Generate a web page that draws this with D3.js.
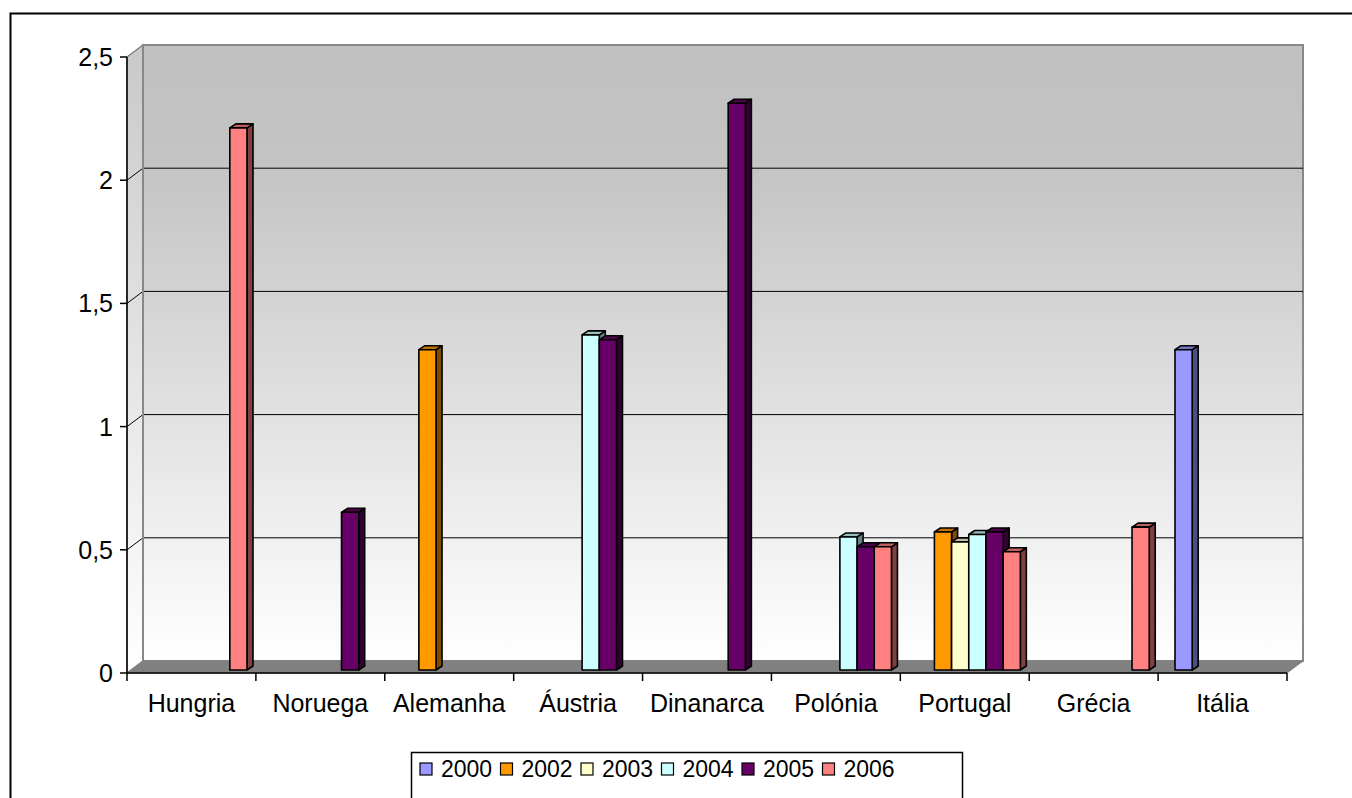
<!DOCTYPE html>
<html>
<head>
<meta charset="utf-8">
<script src="https://cdn.jsdelivr.net/npm/d3@7"></script>
<style>
  html, body { margin: 0; padding: 0; background: #fff; }
  svg { display: block; }
  text { font-family: "Liberation Sans", Arial, sans-serif; fill: #000; }
</style>
</head>
<body>
<svg id="chart" width="1352" height="798"></svg>
<script>
// Countries along the category axis
const categories = ["Hungria", "Noruega", "Alemanha", "Áustria", "Dinanarca", "Polónia", "Portugal", "Grécia", "Itália"];
// Years (one column per year inside each country cluster)
const years = ["2000", "2002", "2003", "2004", "2005", "2006"];
const yearColors = ["#9999FF", "#FF9900", "#FFFFCC", "#CCFFFF", "#660066", "#FF8080"];
// Values per year, in category order (null = no value)
const v2000 = [null, null, null, null, null, null, null, null, 1.30];
const v2002 = [null, null, 1.30, null, null, null, 0.56, null, null];
const v2003 = [null, null, null, null, null, null, 0.52, null, null];
const v2004 = [null, null, null, 1.36, null, 0.54, 0.55, null, null];
const v2005 = [null, 0.64, null, 1.34, 2.30, 0.50, 0.56, null, null];
const v2006 = [2.20, null, null, null, null, 0.50, 0.48, 0.58, null];
const seriesValues = [v2000, v2002, v2003, v2004, v2005, v2006];
const yTicks = [0, 0.5, 1, 1.5, 2, 2.5];

(function () {
const svg = d3.select("#chart");

// Plot frame (front plane) and depth offset of the back wall
const pL = 127, pR = 1287, pT = 57, pB = 673;
const depth = { dx: 16, dy: -12 };
// Column depth inside the floor
const colFront = { dx: 4, dy: -3 }, colBack = { dx: 10, dy: -7 };

const x0 = d3.scaleBand().domain(categories).range([pL, pR]).padding(0);
const x1 = d3.scaleBand().domain(years).range([0, x0.bandwidth()]).paddingInner(0).paddingOuter(0.75);
const y = d3.scaleLinear().domain([0, 2.5]).range([pB, pT]);
const fmt = v => String(v).replace(".", ",");

// Outer chart border
svg.append("rect").attr("x", 10.5).attr("y", 13.5).attr("width", 1360).attr("height", 800)
  .attr("fill", "none").attr("stroke", "#000").attr("stroke-width", 2);

// Gradients for the walls
const defs = svg.append("defs");
const g1 = defs.append("linearGradient").attr("id", "wallGrad")
  .attr("gradientUnits", "userSpaceOnUse").attr("x1", 0).attr("y1", pT + depth.dy).attr("x2", 0).attr("y2", pB + depth.dy);
g1.append("stop").attr("offset", "0").attr("stop-color", "#C0C0C0");
g1.append("stop").attr("offset", "0.2").attr("stop-color", "#C4C4C4");
g1.append("stop").attr("offset", "1").attr("stop-color", "#FFFFFF");
const g2 = defs.append("linearGradient").attr("id", "sideGrad")
  .attr("gradientUnits", "userSpaceOnUse").attr("x1", 0).attr("y1", pT).attr("x2", 0).attr("y2", pB);
g2.append("stop").attr("offset", "0").attr("stop-color", "#CACACA");
g2.append("stop").attr("offset", "1").attr("stop-color", "#FFFFFF");

const pts = a => a.map(p => p.join(",")).join(" ");

// Back wall
svg.append("polygon")
  .attr("points", pts([[pL + depth.dx, pT + depth.dy], [pR + depth.dx, pT + depth.dy],
                       [pR + depth.dx, pB + depth.dy], [pL + depth.dx, pB + depth.dy]]))
  .attr("fill", "url(#wallGrad)").attr("stroke", "#888").attr("stroke-width", 2);
// Side wall
svg.append("polygon")
  .attr("points", pts([[pL, pT], [pL + depth.dx, pT + depth.dy],
                       [pL + depth.dx, pB + depth.dy], [pL, pB]]))
  .attr("fill", "url(#sideGrad)").attr("stroke", "#888").attr("stroke-width", 1.5);

// Gridlines on back and side walls
yTicks.filter(t => t > 0 && t < 2.5).forEach(t => {
  svg.append("line").attr("x1", pL + depth.dx).attr("x2", pR + depth.dx)
    .attr("y1", y(t) + depth.dy).attr("y2", y(t) + depth.dy)
    .attr("stroke", "#000").attr("stroke-width", 1);
});
yTicks.filter(t => t > 0).forEach(t => {
  svg.append("line").attr("x1", pL).attr("y1", y(t))
    .attr("x2", pL + depth.dx).attr("y2", y(t) + depth.dy)
    .attr("stroke", t === 2.5 ? "#888" : "#000").attr("stroke-width", 1);
});
// Left back edge over the diagonals
svg.append("line").attr("x1", pL + depth.dx).attr("x2", pL + depth.dx)
  .attr("y1", pT + depth.dy).attr("y2", pB + depth.dy).attr("stroke", "#888").attr("stroke-width", 2);

// Floor
svg.append("polygon")
  .attr("points", pts([[pL, pB], [pR, pB], [pR + depth.dx, pB + depth.dy], [pL + depth.dx, pB + depth.dy]]))
  .attr("fill", "#808080").attr("stroke", "#808080").attr("stroke-width", 1);

// Columns, drawn left to right so later columns cover earlier side faces
const bars = [];
categories.forEach((c, ci) => {
  years.forEach((yr, si) => {
    const v = seriesValues[si][ci];
    if (v != null) bars.push({ c, yr, si, v });
  });
});
bars.sort((a, b) => (x0(a.c) + x1(a.yr)) - (x0(b.c) + x1(b.yr)));

const shade = (c, k) => d3.rgb(c.r * k, c.g * k, c.b * k);
const gBars = svg.append("g");
bars.forEach(b => {
  const col = d3.rgb(yearColors[b.si]);
  const xl = x0(b.c) + x1(b.yr) + colFront.dx;
  const xr = xl + x1.bandwidth();
  const yb = y(0) + colFront.dy;
  const yt = y(b.v) + colFront.dy;
  const ddx = colBack.dx - colFront.dx, ddy = colBack.dy - colFront.dy;
  const g = gBars.append("g").attr("stroke", "#000").attr("stroke-width", 1.6).attr("stroke-linejoin", "round");
  // side face
  g.append("polygon").attr("points", pts([[xr, yb], [xr + ddx, yb + ddy], [xr + ddx, yt + ddy], [xr, yt]]))
    .attr("fill", shade(col, 0.5));
  // top face
  g.append("polygon").attr("points", pts([[xl, yt], [xl + ddx, yt + ddy], [xr + ddx, yt + ddy], [xr, yt]]))
    .attr("fill", shade(col, 0.75));
  // front face
  g.append("rect").attr("x", xl).attr("y", yt).attr("width", xr - xl).attr("height", yb - yt)
    .attr("fill", col);
});

// Value axis
svg.append("line").attr("x1", pL).attr("x2", pL).attr("y1", pT).attr("y2", pB)
  .attr("stroke", "#000").attr("stroke-width", 1.5);
yTicks.forEach(t => {
  svg.append("line").attr("x1", pL - 7).attr("x2", pL).attr("y1", y(t)).attr("y2", y(t))
    .attr("stroke", "#000").attr("stroke-width", 1.5);
  svg.append("text").attr("x", 113).attr("y", y(t)).attr("dy", "0.36em")
    .attr("text-anchor", "end").attr("font-size", 25).text(fmt(t));
});

// Category axis
svg.append("line").attr("x1", pL).attr("x2", pR).attr("y1", pB).attr("y2", pB)
  .attr("stroke", "#000").attr("stroke-width", 1.5);
categories.concat([null]).forEach(c => {
  const xx = c ? x0(c) : pR;
  svg.append("line").attr("x1", xx).attr("x2", xx).attr("y1", pB).attr("y2", pB + 8)
    .attr("stroke", "#000").attr("stroke-width", 1.5);
});
categories.forEach(c => {
  svg.append("text").attr("x", x0(c) + x0.bandwidth() / 2).attr("y", 703).attr("dy", "0.36em")
    .attr("text-anchor", "middle").attr("font-size", 25).text(c);
});

// Legend
const lg = svg.append("g");
lg.append("rect").attr("x", 411.5).attr("y", 752.5).attr("width", 551).attr("height", 60)
  .attr("fill", "#fff").attr("stroke", "#000").attr("stroke-width", 1.5);
years.forEach((yr, i) => {
  const lx = 420 + i * 80.5;
  lg.append("rect").attr("x", lx).attr("y", 763).attr("width", 12).attr("height", 12)
    .attr("fill", yearColors[i]).attr("stroke", "#000").attr("stroke-width", 1.2);
  lg.append("text").attr("x", lx + 21).attr("y", 769).attr("dy", "0.36em")
    .attr("font-size", 23).text(yr);
});
})();
</script>
</body>
</html>
